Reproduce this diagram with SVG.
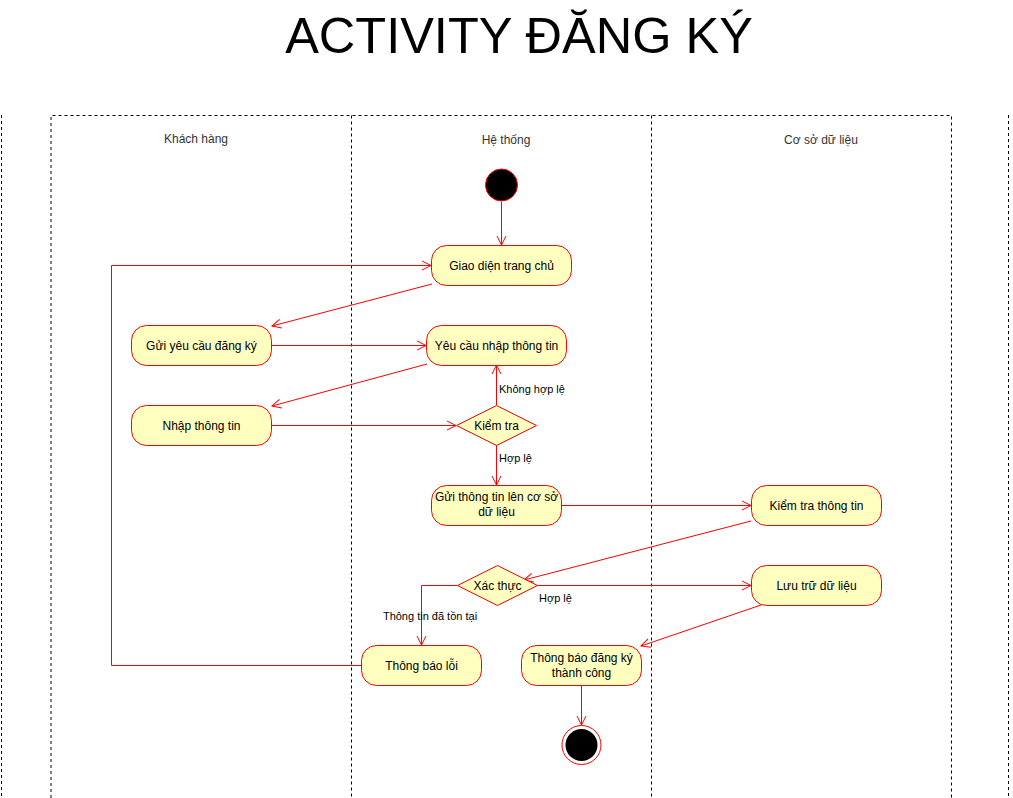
<svg xmlns="http://www.w3.org/2000/svg" width="1013" height="798" viewBox="0 0 1013 798">
<defs>
<marker id="arr" markerWidth="12" markerHeight="12" refX="10" refY="6" orient="auto" markerUnits="userSpaceOnUse">
<path d="M1,1.5 L10,6 L1,10.5" fill="none" stroke="#ff0000" stroke-width="1"/>
</marker>
<style>
text{font-family:"Liberation Sans",Arial,Helvetica,sans-serif;}
.lane{fill:none;stroke:#000;stroke-width:1;stroke-dasharray:3 3;}
.hdr{font-size:12px;fill:#333;text-anchor:middle;}
.act{fill:#ffffc0;stroke:#ff0000;stroke-width:1;}
.lbl{font-size:12px;fill:#000;text-anchor:middle;}
.el{font-size:11px;fill:#000;}
.edge{fill:none;stroke:#ff0000;stroke-width:1;marker-end:url(#arr);}
</style>
</defs>
<rect width="1013" height="798" fill="#fff"/>
<text x="519" y="53" font-size="50.5" text-anchor="middle" fill="#000">ACTIVITY ĐĂNG KÝ</text>

<g id="lanes">
<path class="lane" d="M51,798 V115.5 H951.5 V798"/>
<path class="lane" d="M351.5,115.5 V798"/>
<path class="lane" d="M651.5,115.5 V798"/>
<path class="lane" d="M1.5,115 V798"/>
<path class="lane" d="M1008.5,115 V798"/>
<text class="hdr" x="196" y="143">Khách hàng</text>
<text class="hdr" x="506" y="144">Hệ thống</text>
<text class="hdr" x="821" y="144">Cơ sở dữ liệu</text>
</g>

<g id="connectors">
<path class="edge" d="M501.5,202 V245"/>
<path class="edge" d="M432,284 L272,326"/>
<path class="edge" d="M271,345.5 H426"/>
<path class="edge" d="M427,364 L272,406"/>
<path class="edge" d="M271,425.5 H456"/>
<path class="edge" d="M496.5,405 V365"/>
<text class="el" x="499" y="393">Không hợp lệ</text>
<path class="edge" d="M496.5,445 V485"/>
<text class="el" x="499" y="462">Hợp lệ</text>
<path class="edge" d="M561,505.5 H751"/>
<path class="edge" d="M751,521 L524,580"/>
<path class="edge" d="M537,585.5 H751"/>
<text class="el" x="539" y="602">Hợp lệ</text>
<path class="edge" d="M457,585.5 H421.5 V645"/>
<text class="el" x="430" y="620" text-anchor="middle">Thông tin đã tồn tại</text>
<path class="edge" d="M361,665.5 H111.5 V265.5 H431"/>
<path class="edge" d="M761,605 L641,646"/>
<path class="edge" d="M581.5,685 V725"/>
</g>

<g id="start"><circle cx="501.5" cy="185" r="16" fill="#000" stroke="#ff0000" stroke-width="1"/></g>
<g id="giaodien"><rect class="act" x="431.5" y="245.5" width="140" height="40" rx="15"/><text class="lbl" x="501.5" y="270">Giao diện trang chủ</text></g>
<g id="guiyeucau"><rect class="act" x="131.5" y="325.5" width="140" height="40" rx="15"/><text class="lbl" x="201.5" y="350">Gửi yêu cầu đăng ký</text></g>
<g id="yeucaunhap"><rect class="act" x="426.5" y="325.5" width="140" height="40" rx="15"/><text class="lbl" x="496.5" y="350">Yêu cầu nhập thông tin</text></g>
<g id="nhapthongtin"><rect class="act" x="131.5" y="405.5" width="140" height="40" rx="15"/><text class="lbl" x="201.5" y="430">Nhập thông tin</text></g>
<g id="kiemtra"><path class="act" d="M456.5,425.5 L496.5,405.5 L536.5,425.5 L496.5,445.5 Z"/><text class="lbl" x="496.5" y="430">Kiểm tra</text></g>
<g id="guithongtin"><rect class="act" x="431.5" y="485.5" width="130" height="40" rx="15"/><text class="lbl" x="496.5" y="501">Gửi thông tin lên cơ sở</text><text class="lbl" x="496.5" y="516">dữ liệu</text></g>
<g id="kiemtrathongtin"><rect class="act" x="751.5" y="485.5" width="130" height="40" rx="15"/><text class="lbl" x="816.5" y="510">Kiểm tra thông tin</text></g>
<g id="xacthuc"><path class="act" d="M457.5,585.5 L497.5,565.5 L537.5,585.5 L497.5,605.5 Z"/><text class="lbl" x="497.5" y="590">Xác thực</text></g>
<g id="luutru"><rect class="act" x="751.5" y="565.5" width="130" height="40" rx="15"/><text class="lbl" x="816.5" y="590">Lưu trữ dữ liệu</text></g>
<g id="thongbaoloi"><rect class="act" x="361.5" y="645.5" width="120" height="40" rx="15"/><text class="lbl" x="421.5" y="670">Thông báo lỗi</text></g>
<g id="thongbaothanhcong"><rect class="act" x="521.5" y="645.5" width="120" height="40" rx="15"/><text class="lbl" x="581.5" y="662">Thông báo đăng ký</text><text class="lbl" x="581.5" y="677">thành công</text></g>
<g id="end"><circle cx="581.5" cy="745" r="19.5" fill="#fff" stroke="#ff0000" stroke-width="1"/><circle cx="581.5" cy="745" r="16" fill="#000"/></g>
</svg>
